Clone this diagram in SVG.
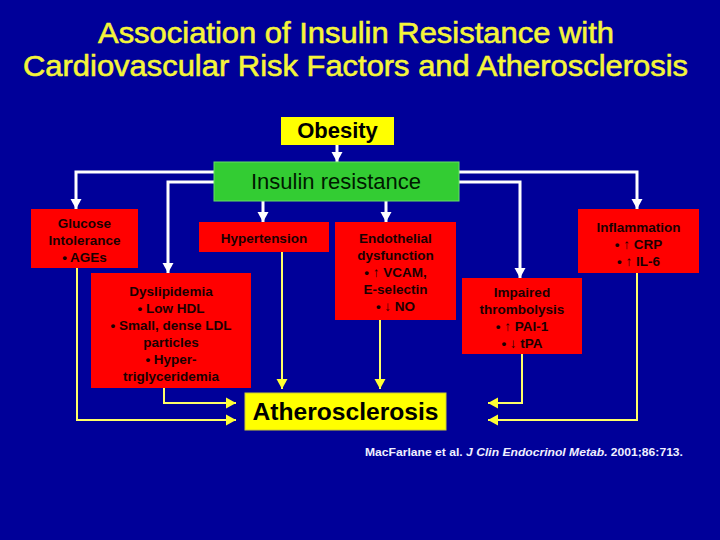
<svg xmlns="http://www.w3.org/2000/svg" width="720" height="540" viewBox="0 0 720 540">
  <style>
    .title { font-family: "Liberation Sans", Arial, sans-serif; font-size: 30px; fill: #f5f53a; stroke: #f5f53a; stroke-width: 0.6; text-anchor: middle; }
    .red { fill: #ff0000; }
    .rt { font-family: "Liberation Sans", Arial, sans-serif; font-size: 13.5px; font-weight: bold; fill: #1a0000; text-anchor: middle; }
    .wl { fill: none; stroke: #ffffff; stroke-width: 3; }
    .yl { fill: none; stroke: #ffff66; stroke-width: 2; }
    .cite { font-family: "Liberation Sans", Arial, sans-serif; font-size: 11px; font-weight: bold; fill: #f0f0ff; }
  </style>
  <defs>
    <marker id="aw" markerUnits="userSpaceOnUse" markerWidth="12" markerHeight="12" viewBox="0 0 12 12" refX="11" refY="6" orient="auto">
      <path d="M1,0.5 L11,6 L1,11.5 Z" fill="#ffffff"/>
    </marker>
    <marker id="ay" markerUnits="userSpaceOnUse" markerWidth="12" markerHeight="12" viewBox="0 0 12 12" refX="11" refY="6" orient="auto">
      <path d="M1,0.5 L11,6 L1,11.5 Z" fill="#ffff33"/>
    </marker>
  </defs>
  <rect width="720" height="540" fill="#000099"/>
  <text class="title" x="356" y="43" textLength="516" lengthAdjust="spacingAndGlyphs">Association of Insulin Resistance with</text>
  <text class="title" x="355.5" y="76" textLength="665" lengthAdjust="spacingAndGlyphs">Cardiovascular Risk Factors and Atherosclerosis</text>

  <g id="connectors">
    <path class="wl" d="M337 145 V162" marker-end="url(#aw)"/>
    <path class="wl" d="M214 172 H76 V209" marker-end="url(#aw)"/>
    <path class="wl" d="M214 182 H168 V273" marker-end="url(#aw)"/>
    <path class="wl" d="M263 201 V222" marker-end="url(#aw)"/>
    <path class="wl" d="M386 201 V222" marker-end="url(#aw)"/>
    <path class="wl" d="M459 172 H637 V209" marker-end="url(#aw)"/>
    <path class="wl" d="M459 182 H520 V278" marker-end="url(#aw)"/>
    <path class="yl" d="M77 268 V420 H236" marker-end="url(#ay)"/>
    <path class="yl" d="M164 388 V403 H236" marker-end="url(#ay)"/>
    <path class="yl" d="M282 252 V389" marker-end="url(#ay)"/>
    <path class="yl" d="M380 320 V389" marker-end="url(#ay)"/>
    <path class="yl" d="M522 354 V403 H488" marker-end="url(#ay)"/>
    <path class="yl" d="M637 273 V420 H488" marker-end="url(#ay)"/>
  </g>

  <g id="obesity">
    <rect x="281" y="117" width="113" height="28" fill="#ffff00"/>
    <text x="337.5" y="138" font-family="Liberation Sans, Arial, sans-serif" font-size="22" font-weight="bold" fill="#000000" text-anchor="middle">Obesity</text>
  </g>
  <g id="insulin-resistance">
    <rect x="214" y="162" width="245" height="39" fill="#33cc33" stroke="#66dd66" stroke-width="1"/>
    <text x="336" y="189" font-family="Liberation Sans, Arial, sans-serif" font-size="22" fill="#001a00" text-anchor="middle">Insulin resistance</text>
  </g>
  <g id="glucose">
    <rect class="red" x="31" y="209" width="107" height="59"/>
    <text class="rt" x="84.5" y="228">Glucose</text>
    <text class="rt" x="84.5" y="245">Intolerance</text>
    <text class="rt" x="84.5" y="262">• AGEs</text>
  </g>
  <g id="hypertension">
    <rect class="red" x="199" y="222" width="130" height="30"/>
    <text class="rt" x="264" y="243">Hypertension</text>
  </g>
  <g id="dyslipidemia">
    <rect class="red" x="91" y="273" width="160" height="115"/>
    <text class="rt" x="171" y="296">Dyslipidemia</text>
    <text class="rt" x="171" y="313">• Low HDL</text>
    <text class="rt" x="171" y="330">• Small, dense LDL</text>
    <text class="rt" x="171" y="347">particles</text>
    <text class="rt" x="171" y="364">• Hyper-</text>
    <text class="rt" x="171" y="381">triglyceridemia</text>
  </g>
  <g id="endothelial">
    <rect class="red" x="335" y="222" width="121" height="98"/>
    <text class="rt" x="395.5" y="243">Endothelial</text>
    <text class="rt" x="395.5" y="260">dysfunction</text>
    <text class="rt" x="395.5" y="277">• ↑ VCAM,</text>
    <text class="rt" x="395.5" y="294">E-selectin</text>
    <text class="rt" x="395.5" y="311">• ↓ NO</text>
  </g>
  <g id="impaired">
    <rect class="red" x="462" y="278" width="120" height="76"/>
    <text class="rt" x="522" y="297">Impaired</text>
    <text class="rt" x="522" y="314">thrombolysis</text>
    <text class="rt" x="522" y="331">• ↑ PAI-1</text>
    <text class="rt" x="522" y="348">• ↓ tPA</text>
  </g>
  <g id="inflammation">
    <rect class="red" x="578" y="209" width="121" height="64"/>
    <text class="rt" x="638.5" y="232">Inflammation</text>
    <text class="rt" x="638.5" y="249">• ↑ CRP</text>
    <text class="rt" x="638.5" y="266">• ↑ IL-6</text>
  </g>
  <g id="atherosclerosis">
    <rect x="245" y="393" width="201" height="37" fill="#ffff00" stroke="#cccc33" stroke-width="1"/>
    <text x="345.5" y="420" font-family="Liberation Sans, Arial, sans-serif" font-size="24" font-weight="bold" fill="#000000" text-anchor="middle" textLength="186" lengthAdjust="spacingAndGlyphs">Atherosclerosis</text>
  </g>
  <text class="cite" x="365" y="456" textLength="318" lengthAdjust="spacingAndGlyphs">MacFarlane et al. <tspan font-style="italic">J Clin Endocrinol Metab.</tspan> 2001;86:713.</text>
</svg>
